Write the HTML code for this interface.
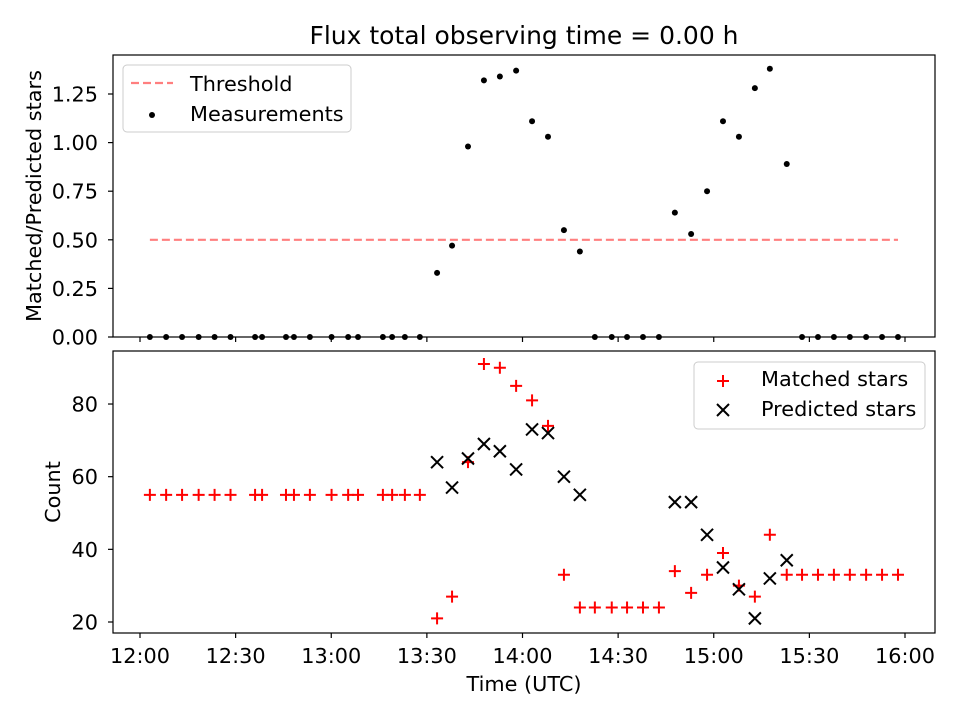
<!DOCTYPE html>
<html><head><meta charset="utf-8"><style>
body{margin:0;background:#fff}
svg{display:block;font-family:"DejaVu Sans","Liberation Sans",sans-serif}
</style></head><body>
<svg id="chart" width="960" height="720" viewBox="0 0 960 720">
<rect width="960" height="720" fill="#fff"/>
<text x="524" y="44" font-size="25" text-anchor="middle" fill="#000">Flux total observing time = 0.00 h</text>
<g id="topPanel"></g>
<g id="botPanel"></g>
</svg>
<script>
const times=[3.1,8.2,13.2,18.4,23.4,28.4,36.1,38.3,45.8,48.3,53.3,60.1,65.3,68.4,76.2,79.1,83.1,87.8,93.2,97.9,102.9,107.9,112.9,118,123,128,133,138,142.7,148,152.8,157.8,162.8,167.8,172.9,177.9,182.9,187.9,192.9,197.6,202.9,207.7,212.7,217.7,222.7,227.8,232.8,237.8];
const ratio=[0,0,0,0,0,0,0,0,0,0,0,0,0,0,0,0,0,0,0.33,0.47,0.98,1.32,1.34,1.37,1.11,1.03,0.55,0.44,0,0,0,0,0,0.64,0.53,0.75,1.11,1.03,1.28,1.38,0.89,0,0,0,0,0,0,0];
const matched=[55,55,55,55,55,55,55,55,55,55,55,55,55,55,55,55,55,55,21,27,64,91,90,85,81,74,33,24,24,24,24,24,24,34,28,33,39,30,27,44,33,33,33,33,33,33,33,33];
const predicted=[null,null,null,null,null,null,null,null,null,null,null,null,null,null,null,null,null,null,64,57,65,69,67,62,73,72,60,55,null,null,null,null,null,53,53,44,35,29,21,32,37,null,null,null,null,null,null,null];
const threshold=0.5;
const xTickLabels=["12:00","12:30","13:00","13:30","14:00","14:30","15:00","15:30","16:00"];
const topTicks=[0,0.25,0.5,0.75,1.0,1.25];
const botTicks=[20,40,60,80];

const NS="http://www.w3.org/2000/svg";
function el(p,t,a){const e=document.createElementNS(NS,t);for(const k in a)e.setAttribute(k,a[k]);p.appendChild(e);return e;}
const L=113,R=935,FS=20.8;
const xs=m=>140+m*3.1875;
const yTop=v=>337-v*194.4;
const yBot=c=>622-(c-20)*3.633;
const topG=document.getElementById('topPanel'),botG=document.getElementById('botPanel');

function axes(g,y0,y1,ticks,yf,fmt,labelX){
  for(let i=0;i<ticks.length;i++){const y=yf(ticks[i]);
    const t=el(g,'line',{x1:L-5,x2:L,y1:y,y2:y,stroke:'#000','stroke-width':1.2});
    
    
    const tx=el(g,'text',{x:L-15,y:y+7.5,'font-size':FS,'text-anchor':'end'});tx.textContent=fmt(ticks[i]);
    
    
  }
  for(let i=0;i<xTickLabels.length;i++){const x=xs(i*30);
    const t=el(g,'line',{x1:x,x2:x,y1:y1,y2:y1+5,stroke:'#000','stroke-width':1.2});
    
    
    if(labelX){const tx=el(g,'text',{x:x,y:y1+30,'font-size':FS,'text-anchor':'middle'});tx.textContent=xTickLabels[i];
      
      }
  }
}
function frame(g,y0,y1){const r=el(g,'rect',{x:L,y:y0,width:R-L,height:y1-y0,fill:'none',stroke:'#000','stroke-width':1.2});
  
  }

axes(topG,55,337,topTicks,yTop,v=>v.toFixed(2),false);
const th=el(topG,'line',{x1:xs(times[0]),x2:xs(times[times.length-1]),y1:yTop(threshold),y2:yTop(threshold),stroke:'#ff7f7f','stroke-width':2.2,'stroke-dasharray':'8,4'});


for(let i=0;i<times.length;i++){const c=el(topG,'circle',{cx:xs(times[i]),cy:yTop(ratio[i]),r:3,fill:'#000'});
  
  }
frame(topG,55,337);
const yl1=el(topG,'text',{x:0,y:0,'font-size':FS,'text-anchor':'middle',transform:'translate(41,196) rotate(-90)'});yl1.textContent='Matched/Predicted stars';


const lg1=el(topG,'g',{});


el(lg1,'rect',{x:123,y:65,width:228,height:67,rx:4,fill:'#fff',stroke:'#ccc','stroke-width':1});
el(lg1,'line',{x1:131,x2:173,y1:83,y2:83,stroke:'#ff7f7f','stroke-width':2.2,'stroke-dasharray':'8,4'});
let t=el(lg1,'text',{x:190,y:91,'font-size':FS});t.textContent='Threshold';
el(lg1,'circle',{cx:152,cy:115,r:3,fill:'#000'});
t=el(lg1,'text',{x:190,y:121,'font-size':FS});t.textContent='Measurements';

axes(botG,351,633,botTicks,yBot,v=>String(v),true);
for(let i=0;i<times.length;i++){const x=xs(times[i]),y=yBot(matched[i]);
  const p=el(botG,'path',{d:`M${x-6},${y}H${x+6}M${x},${y-6}V${y+6}`,stroke:'#ff0000','stroke-width':2});
  
  }
for(let i=0;i<times.length;i++){if(predicted[i]==null)continue;const x=xs(times[i]),y=yBot(predicted[i]);
  const p=el(botG,'path',{d:`M${x-6},${y-6}L${x+6},${y+6}M${x-6},${y+6}L${x+6},${y-6}`,stroke:'#000','stroke-width':2});
  
  }
frame(botG,351,633);
const yl2=el(botG,'text',{x:0,y:0,'font-size':FS,'text-anchor':'middle',transform:'translate(60,492) rotate(-90)'});yl2.textContent='Count';


const xl=el(botG,'text',{x:524,y:691,'font-size':FS,'text-anchor':'middle'});xl.textContent='Time (UTC)';


const lg2=el(botG,'g',{});


el(lg2,'rect',{x:694,y:362,width:231,height:67,rx:4,fill:'#fff',stroke:'#ccc','stroke-width':1});
el(lg2,'path',{d:'M717,381H729M723,375V387',stroke:'#ff0000','stroke-width':2});
t=el(lg2,'text',{x:761,y:386,'font-size':FS});t.textContent='Matched stars';
el(lg2,'path',{d:'M717,404L729,416M717,416L729,404',stroke:'#000','stroke-width':2});
t=el(lg2,'text',{x:761,y:416,'font-size':FS});t.textContent='Predicted stars';
</script>
</body></html>
